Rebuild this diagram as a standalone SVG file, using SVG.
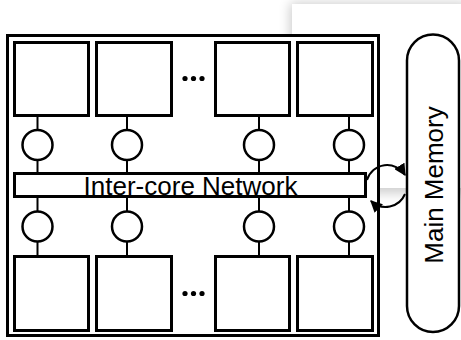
<svg xmlns="http://www.w3.org/2000/svg" width="461" height="340" viewBox="0 0 461 340">
<style>
.core{fill:#fff;stroke:#000;stroke-width:3}
.sw{fill:#fff;stroke:#000;stroke-width:2.5}
.ln{stroke:#000;stroke-width:2;fill:none}
.dot{fill:#000}
.lbl{font-family:"Liberation Sans",Arial,sans-serif;font-size:26px;fill:#000}
</style>
<defs>
<filter id="sh" x="-20%" y="-20%" width="140%" height="140%"><feGaussianBlur stdDeviation="6"/></filter>
<marker id="ah" viewBox="0 0 10 10" refX="9" refY="5" markerWidth="12" markerHeight="12" markerUnits="userSpaceOnUse" orient="auto"><path d="M0,0 L10,5 L0,10 Z" fill="#000"/></marker>
</defs>
<g id="panel">
<rect x="290" y="3" width="178" height="190" fill="#000" opacity="0.2" filter="url(#sh)"/>
<rect x="292" y="4" width="175" height="184" fill="#fff"/>
</g>
<g id="chip">
<rect x="7.5" y="35.5" width="371" height="300" class="core"/>
</g>
<g id="connectors">
<line x1="37.5" y1="117" x2="37.5" y2="172" class="ln"/>
<line x1="127" y1="117" x2="127" y2="172" class="ln"/>
<line x1="259" y1="117" x2="259" y2="172" class="ln"/>
<line x1="349" y1="117" x2="349" y2="172" class="ln"/>
<line x1="37.5" y1="198" x2="37.5" y2="255" class="ln"/>
<line x1="127" y1="198" x2="127" y2="255" class="ln"/>
<line x1="259" y1="198" x2="259" y2="255" class="ln"/>
<line x1="349" y1="198" x2="349" y2="255" class="ln"/>
<path d="M367,180 A21,21 0 0 1 405,175" class="ln" marker-end="url(#ah)"/>
<path d="M405,194 A21,21 0 0 1 371,201" class="ln" marker-end="url(#ah)"/>
</g>
<g id="core-t1"><rect x="14.5" y="42.5" width="74" height="73" class="core"/></g>
<g id="core-t2"><rect x="96.5" y="42.5" width="75" height="73" class="core"/></g>
<g id="dots-t"><circle cx="185" cy="78.5" r="2.6" class="dot"/><circle cx="193.5" cy="78.5" r="2.6" class="dot"/><circle cx="202" cy="78.5" r="2.6" class="dot"/></g>
<g id="core-t3"><rect x="215.5" y="42.5" width="74" height="73" class="core"/></g>
<g id="core-t4"><rect x="297.5" y="42.5" width="75" height="73" class="core"/></g>
<g id="sw-t1"><circle cx="37.5" cy="145" r="15" class="sw"/></g>
<g id="sw-t2"><circle cx="127" cy="145" r="15" class="sw"/></g>
<g id="sw-t3"><circle cx="259" cy="145" r="15" class="sw"/></g>
<g id="sw-t4"><circle cx="349" cy="145" r="15" class="sw"/></g>
<g id="network">
<rect x="14.5" y="173.5" width="351" height="23" class="core"/>
<text x="190.5" y="195" text-anchor="middle" class="lbl">Inter-core Network</text>
</g>
<g id="sw-b1"><circle cx="37.5" cy="226.5" r="15" class="sw"/></g>
<g id="sw-b2"><circle cx="127" cy="226.5" r="15" class="sw"/></g>
<g id="sw-b3"><circle cx="259" cy="226.5" r="15" class="sw"/></g>
<g id="sw-b4"><circle cx="349" cy="226.5" r="15" class="sw"/></g>
<g id="core-b1"><rect x="14.5" y="256.5" width="74" height="74" class="core"/></g>
<g id="core-b2"><rect x="96.5" y="256.5" width="75" height="74" class="core"/></g>
<g id="dots-b"><circle cx="185" cy="293.5" r="2.6" class="dot"/><circle cx="193.5" cy="293.5" r="2.6" class="dot"/><circle cx="202" cy="293.5" r="2.6" class="dot"/></g>
<g id="core-b3"><rect x="215.5" y="256.5" width="74" height="74" class="core"/></g>
<g id="core-b4"><rect x="297.5" y="256.5" width="75" height="74" class="core"/></g>
<g id="memory">
<rect x="407" y="34.5" width="52" height="297.5" rx="26" ry="26" fill="#fff" stroke="#000" stroke-width="2.5"/>
<text x="0" y="0" transform="translate(443,185) rotate(-90)" text-anchor="middle" class="lbl">Main Memory</text>
</g>
</svg>
